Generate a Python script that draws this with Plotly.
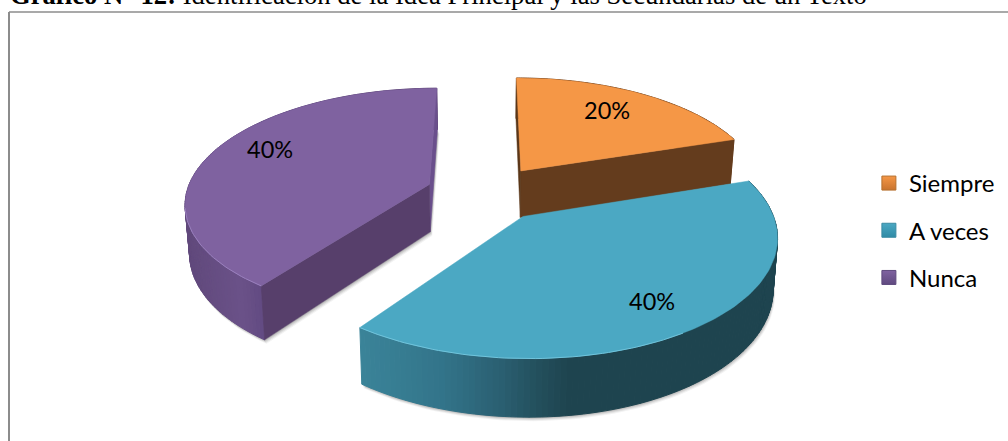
import numpy as np
import plotly.graph_objects as go

categories = ["Siempre", "A veces", "Nunca"]
values = [20, 40, 40]
labels = ["20%", "40%", "40%"]
top_colors = ["#F59746", "#4BA8C3", "#7F62A0"]
face_colors = [("#5A3618", "#643C1D"), None, ("#573F6B", "#6A4F8C")]
# rim shading: (screen x, colour)
rim_stops = [
    [(500, "#643C1D"), (760, "#643C1D")],
    [(360, "#3B8499"), (440, "#33758B"), (500, "#2B6072"), (540, "#234F5C"), (570, "#1E444F"), (780, "#1E444F")],
    [(185, "#61497C"), (240, "#6B5289"), (270, "#5F4880"), (440, "#573F6B")],
]
rim_light = ["#F9B27A", "#70C4DC", "#9A80BE"]
legend_grad = ["#C9742F", "#2F8BA6", "#604A80"]
legend_line = ["#B5702F", "#3A8BA3", "#5F4A7E"]
label_xy = [(607, 110), (652, 301), (270, 149)]

CX, CY, A, B, P, EXPLODE, DEPTH = 486.3, 193, 243, 113, 0.15, 0.249, 48

def project(theta, r, mid, low=False):
    u = r * np.sin(theta) + EXPLODE * np.sin(mid)
    v = -r * np.cos(theta) - EXPLODE * np.cos(mid)
    d = 1 - P * v
    x = A * u / d
    y = B * v / d
    if low:
        return CX + x * 0.985, CY + y + DEPTH / d
    return CX + x, CY + y

def hexrgb(c):
    return np.array([int(c[i:i + 2], 16) for i in (1, 3, 5)], float)

def shade(stops, x):
    xs = [s[0] for s in stops]
    rgb = np.array([hexrgb(s[1]) for s in stops])
    return "rgb(%d,%d,%d)" % tuple(np.interp(x, xs, rgb[:, k]) for k in range(3))

def poly(fig, xs, ys, color, lw=1.0):
    fig.add_trace(go.Scatter(x=list(xs), y=list(ys), mode="lines", fill="toself", fillcolor=color,
                             line=dict(color=color, width=lw), showlegend=False, hoverinfo="skip"))

fig = go.Figure()
total = sum(values)
spans = []
start = 0.0
for v in values:
    end = start + v / total * 2 * np.pi
    spans.append((start, end))
    start = end

# soft shadows
for i, (s, e) in enumerate(spans):
    mid = (s + e) / 2
    th = np.linspace(s, e, 80)
    lx, ly = project(th, 1, mid, True)
    ax, ay = project(s, 0, mid, True)
    for off, alpha in ((4, 0.05), (3, 0.07), (2, 0.09), (1, 0.12)):
        poly(fig, np.r_[ax, lx, ax] + off * 0.5, np.r_[ay, ly, ay] + off, "rgba(0,0,0,%.2f)" % alpha, 0)

for i in [2, 0, 1]:
    s, e = spans[i]
    mid = (s + e) / 2
    th = np.linspace(s, e, 121)
    # rim
    for t0, t1 in zip(th[:-1], th[1:]):
        x0, y0 = project(t0, 1, mid)
        x1, y1 = project(t1, 1, mid)
        x2, y2 = project(t1, 1, mid, True)
        x3, y3 = project(t0, 1, mid, True)
        poly(fig, [x0, x1, x2, x3, x0], [y0, y1, y2, y3, y0], shade(rim_stops[i], (x0 + x1) / 2))
    # cut faces
    if face_colors[i]:
        for t, col in ((e, face_colors[i][1]), (s, face_colors[i][0])):
            px, py = project(t, 1, mid)
            qx, qy = project(t, 1, mid, True)
            ax, ay = project(t, 0, mid)
            bx, by = project(t, 0, mid, True)
            poly(fig, [ax, px, qx, bx, ax], [ay, py, qy, by, ay], col, 0.5)
    # top
    tx, ty = project(th, 1, mid)
    ax, ay = project(s, 0, mid)
    poly(fig, np.r_[ax, tx, ax], np.r_[ay, ty, ay], top_colors[i], 0.5)
    # highlight along the left front of the rim
    front = th[(np.cos(th) < -0.2) & (np.sin(th) < 0.55)]
    if len(front):
        hx, hy = project(front, 1, mid)
        fig.add_trace(go.Scatter(x=hx, y=hy, mode="lines", line=dict(color=rim_light[i], width=1),
                                 showlegend=False, hoverinfo="skip"))

# legend entries
for i, c in enumerate(categories):
    fig.add_trace(go.Scatter(x=[None], y=[None], mode="markers", name=c, legendgroup=c,
                             marker=dict(symbol="square", size=14, color=top_colors[i],
                                         gradient=dict(type="vertical", color=legend_grad[i]),
                                         line=dict(color=legend_line[i], width=1))))

for (x, y), t in zip(label_xy, labels):
    fig.add_annotation(x=x, y=y, text=t, showarrow=False, font=dict(family="Lato", size=23.5, color="#000"))

fig.add_annotation(x=9, y=11, xanchor="left", yanchor="bottom", showarrow=False, borderpad=0,
                   text="<b>Gráfico N° 12:</b> Identificación de la Idea Principal y las Secundarias de un Texto",
                   font=dict(family="Liberation Serif", size=26.65, color="#000"))

# chart frame
fig.add_shape(type="line", x0=9, x1=9, y0=12, y1=441, line=dict(color="#8C8C8C", width=2))
fig.add_shape(type="line", x0=9, x1=1008, y0=12, y1=12, line=dict(color="#8C8C8C", width=1.5))

fig.update_layout(
    width=1008, height=441, margin=dict(l=0, r=0, t=0, b=0),
    paper_bgcolor="white", plot_bgcolor="white",
    xaxis=dict(range=[0, 1008], visible=False, fixedrange=True),
    yaxis=dict(range=[441, 0], visible=False, fixedrange=True),
    legend=dict(x=0.862, y=0.635, xanchor="left", yanchor="top", tracegroupgap=13,
                font=dict(family="Lato", size=24, color="#000"), bgcolor="rgba(0,0,0,0)"),
)
fig.write_html("out.html", config=dict(displayModeBar=False),
               post_script="document.body.style.margin='0';document.documentElement.style.overflow='hidden';")
